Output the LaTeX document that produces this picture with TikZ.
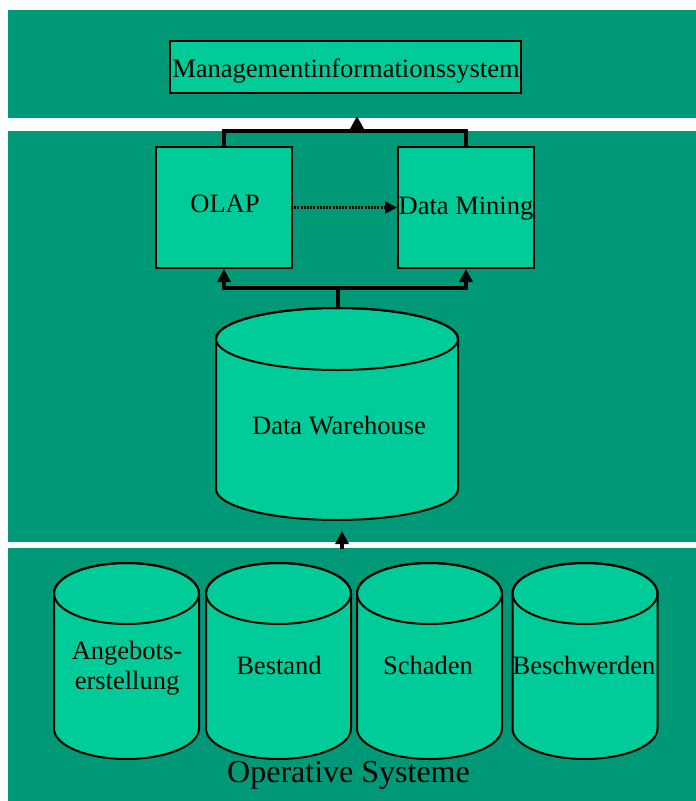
\documentclass[tikz,border=0pt]{standalone}
\usepackage{fontspec}
\setmainfont{Liberation Serif}
\usetikzlibrary{arrows.meta}
\definecolor{panelgreen}{RGB}{0,153,119}
\definecolor{boxgreen}{RGB}{0,204,153}

% database cylinder: centre x, top-ellipse y, bottom-ellipse y, x radius, y radius
\newcommand\dbcyl[5]{%
  \path[fill=boxgreen,draw=black,line width=2pt]
    ({#1-#4},#2) -- ({#1-#4},#3)
    arc[start angle=180,end angle=0,x radius=#4,y radius=#5]
    -- ({#1+#4},#2)
    arc[start angle=0,end angle=-180,x radius=#4,y radius=#5] -- cycle;
  \draw[line width=2pt] (#1,#2) ellipse[x radius=#4,y radius=#5];
}

\begin{document}
\begin{tikzpicture}[x=1pt,y=-1pt,
  panel/.style={fill=panelgreen,draw=none},
  box/.style={draw=black,line width=2pt,fill=boxgreen,inner sep=0pt},
  lbl/.style={anchor=base,inner sep=0pt,font=\fontsize{26.5}{30}\selectfont},
  link/.style={line width=3.5pt},
  tip/.style={-{Triangle[width=13pt,length=13pt]}},
]
\useasboundingbox (0,0) rectangle (696,801);
\fill[white] (0,0) rectangle (696,801);

% three layers
\path[panel] (8,10) rectangle (696,118);
\path[panel] (8,131) rectangle (696,542);
\path[panel] (8,548) rectangle (696,801);

% management layer
\node[box,minimum width=351pt,minimum height=52pt] (mis) at (345.5,67) {};
\node[lbl] (mistext) at (346,77) {Managementinformationssystem};

% analysis layer
\node[box,minimum width=136pt,minimum height=121pt] (olap) at (224,207.5) {};
\node[box,minimum width=136pt,minimum height=121pt] (dm) at (466,207.5) {};
\node[lbl] (olaptext) at (225,212) {OLAP};
\node[lbl] (dmtext) at (466,214) {Data Mining};

\dbcyl{337}{339}{489}{121}{31}
\node[lbl] (dwtext) at (339,434) {Data Warehouse};
\coordinate (dwtop) at (338,308);

% connectors in the analysis layer
\coordinate (jointop) at (357,132);
\coordinate (misin) at (357,116);
\draw[link] (olap.north) -- ++(0,-15) -| (dm.north);
\draw[link,tip] (jointop) -- (misin);

\coordinate (fork) at (338,288);
\draw[link,tip] (dwtop) -- (fork) -| (olap.south);
\draw[link,tip] (fork) -| (dm.south);

\draw[line width=2.5pt,dash pattern=on 2pt off 1.2pt,
      -{Triangle[width=12pt,length=12pt]}] ([xshift=-2pt]olap.east) -- (dm.west);

% operational layer
\coordinate (opsout) at (342,549);
\coordinate (dwin) at (342,531);
\draw[link,tip] (opsout) -- (dwin);

\dbcyl{126.5}{593.5}{728.5}{72.5}{30.5}
\dbcyl{278.5}{593.5}{728.5}{72.5}{30.5}
\dbcyl{429.5}{593.5}{728.5}{72.5}{30.5}
\dbcyl{585}{593.5}{728.5}{72.5}{30.5}

\node[lbl] (angA) at (127,659) {Angebots-};
\node[lbl] (angB) at (127,689) {erstellung};
\node[lbl] (best) at (279,674) {Bestand};
\node[lbl] (schad) at (428,674) {Schaden};
\node[lbl] (beschw) at (584,674) {Beschwerden};

\node[lbl,font=\fontsize{32}{36}\selectfont] (ops) at (348.5,782) {Operative Systeme};
\end{tikzpicture}
\end{document}
